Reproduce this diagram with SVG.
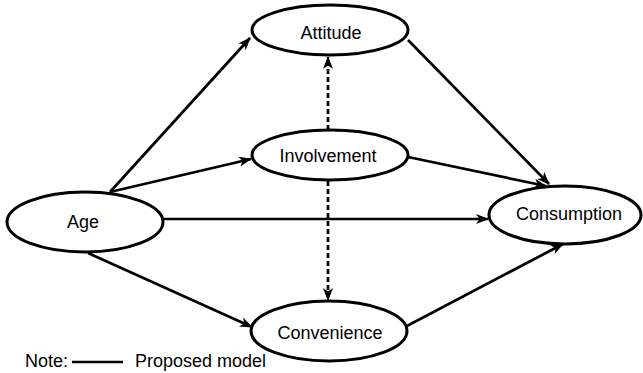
<svg xmlns="http://www.w3.org/2000/svg" width="643" height="373" viewBox="0 0 643 373">
<defs>
<style>
.node ellipse{fill:#fff;stroke:#000;stroke-width:3}
.node text,.note{font-family:"Liberation Sans",Arial,sans-serif;font-size:18px;fill:#000;text-anchor:middle}
.note{text-anchor:start}
.edge{stroke:#000;stroke-width:2.7;fill:none;marker-end:url(#arr)}
.dash{stroke-dasharray:5 3}
</style>
<marker id="arr" markerUnits="userSpaceOnUse" markerWidth="13" markerHeight="10" refX="12" refY="5" orient="auto">
<path d="M0,0 L13,5 L0,10 L3.5,5 z" fill="#000"/>
</marker>
</defs>
<rect width="643" height="373" fill="#fff"/>
<g id="connectors">
<line class="edge" x1="110" y1="192" x2="250" y2="38"/>
<line class="edge" x1="110" y1="192" x2="251" y2="159"/>
<line class="edge" x1="163" y1="219" x2="488" y2="219"/>
<line class="edge" x1="88" y1="253" x2="252" y2="327"/>
<line class="edge" x1="408" y1="40" x2="549" y2="184"/>
<line class="edge" x1="408" y1="157" x2="546" y2="186"/>
<line class="edge" x1="405" y1="327" x2="563" y2="244"/>
<line class="edge dash" x1="328" y1="130" x2="328" y2="57"/>
<line class="edge dash" x1="328" y1="181" x2="328" y2="300"/>
</g>
<g id="attitude" class="node"><ellipse cx="330" cy="30" rx="78" ry="25"/><text x="331" y="38.5">Attitude</text></g>
<g id="involvement" class="node"><ellipse cx="330" cy="155" rx="78" ry="25"/><text x="328" y="161.5">Involvement</text></g>
<g id="age" class="node"><ellipse cx="85" cy="222" rx="78" ry="30"/><text x="83" y="227.5">Age</text></g>
<g id="consumption" class="node"><ellipse cx="565" cy="215" rx="76" ry="29"/><text x="569" y="220">Consumption</text></g>
<g id="convenience" class="node"><ellipse cx="329" cy="331" rx="78" ry="30"/><text x="330" y="339">Convenience</text></g>
<g id="note">
<text class="note" x="25" y="367">Note:</text>
<line x1="72" y1="362" x2="123" y2="362" stroke="#000" stroke-width="2.6"/>
<text class="note" x="135" y="367">Proposed model</text>
</g>
</svg>
